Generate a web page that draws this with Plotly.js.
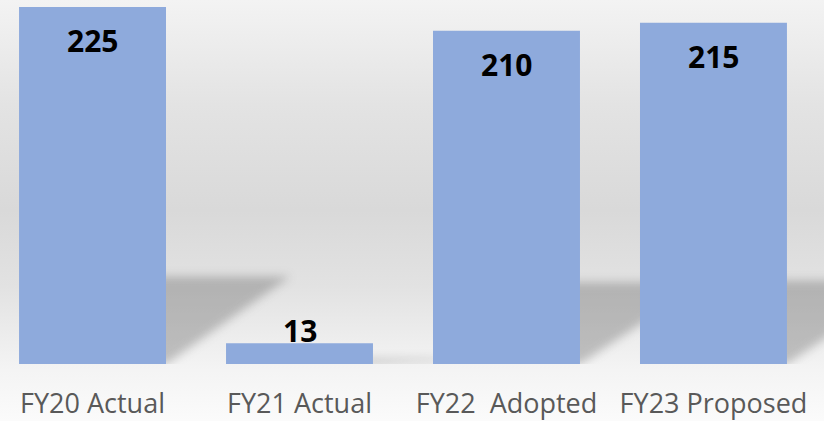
<!DOCTYPE html>
<html>
<head>
<meta charset="utf-8">
<script src="https://cdn.plot.ly/plotly-3.0.1.min.js"></script>
<style>
  html, body { margin: 0; padding: 0; }
  #chart {
    width: 824px; height: 421px;
    background: linear-gradient(to bottom, #f3f3f3 0%, #e3e3e3 25%, #d9d9d9 50%, #e2e2e2 68%, #f4f4f4 88%, #fbfbfb 100%);
  }
  .shapelayer path { filter: blur(5px); }
</style>
</head>
<body>
<div id="chart"></div>
<script>
const categories = ["FY20 Actual", "FY21 Actual", "FY22\u00a0\u00a0Adopted", "FY23 Proposed"];
const values = [225, 13, 210, 215];
const valueLabels = ["225", "13", "210", "215"];

const xs = categories.map((_, i) => i);
const barWidth = 0.71;

// soft shadows (decorative), derived from data
const shapes = values.map((v, i) => {
  const x1 = i + barWidth / 2;
  const h = 0.245 * v;
  const s = 0.6;
  return {
    type: 'path', xref: 'x', yref: 'y', layer: 'below',
    path: `M ${x1 - 0.05} 0 L ${x1} 0 L ${x1 + s} ${h} L ${x1 - 0.05} ${h} Z`,
    fillcolor: 'rgba(70,70,70,0.30)', line: {width: 0}
  };
});

const annotations = values.map((v, i) => {
  const big = v > 50;
  return {
    x: i, y: v, xref: 'x', yref: 'y',
    text: valueLabels[i], showarrow: false,
    yanchor: big ? 'top' : 'bottom',
    yshift: big ? -11 : -10,
    font: {family: 'Open Sans', size: 30, color: '#000000', weight: 'bold'}
  };
});

const trace = {
  type: 'bar', x: xs, y: values, width: barWidth,
  marker: {color: '#8eaadc', line: {width: 0}},
  hoverinfo: 'none'
};

const layout = {
  width: 824, height: 421,
  margin: {l: 0, r: 0, t: 7, b: 57, pad: 0},
  paper_bgcolor: 'rgba(0,0,0,0)',
  plot_bgcolor: 'rgba(0,0,0,0)',
  showlegend: false,
  xaxis: {
    range: [-0.447, 3.534], tickvals: xs, ticktext: categories,
    showgrid: false, zeroline: false, showline: false, ticks: '',
    ticklabelstandoff: 21,
    tickfont: {family: 'Open Sans', size: 27, color: '#595959'}
  },
  yaxis: {
    range: [0, 225], visible: false, showgrid: false, zeroline: false
  },
  shapes: shapes,
  annotations: annotations
};

Plotly.newPlot('chart', [trace], layout, {displayModeBar: false, staticPlot: true});
</script>
</body>
</html>
